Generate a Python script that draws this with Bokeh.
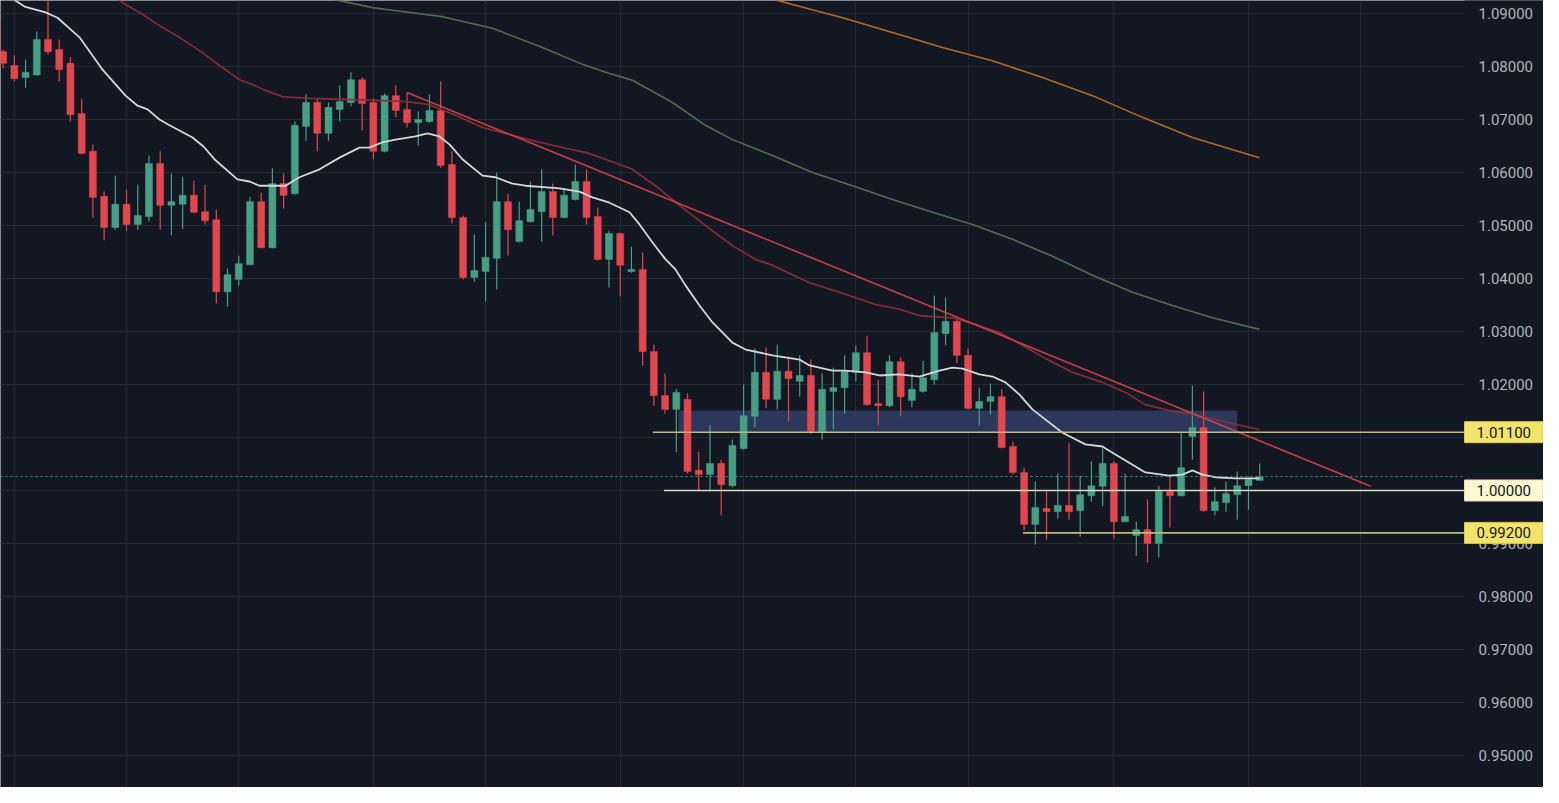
from bokeh.plotting import figure
from bokeh.models import Range1d, FixedTicker, Label, Grid
from bokeh.core.properties import value
from bokeh.embed import file_html
from bokeh.resources import INLINE

# ---------------- data (daily candles, index = trading day) ----------------
opens = [1.0889, 1.0828, 1.0802, 1.0779, 1.0784, 1.0851, 1.0832, 1.0806, 1.0711, 1.0640,
         1.0555, 1.0496, 1.0540, 1.0502, 1.0517, 1.0617, 1.0538, 1.0540, 1.0557, 1.0526,
         1.0511, 1.0375, 1.0398, 1.0426, 1.0545, 1.0458, 1.0579, 1.0560, 1.0687, 1.0732,
         1.0674, 1.0719, 1.0732, 1.0775, 1.0732, 1.0640, 1.0745, 1.0719, 1.0694, 1.0696,
         1.0717, 1.0615, 1.0515, 1.0402, 1.0413, 1.0438, 1.0545, 1.0470, 1.0507, 1.0526,
         1.0564, 1.0515, 1.0549, 1.0583, 1.0517, 1.0436, 1.0485, 1.0413, 1.0417, 1.0262,
         1.0179, 1.0153, 1.0172, 1.0038, 1.0030, 1.0051, 1.0009, 1.0079, 1.0140, 1.0223,
         1.0172, 1.0225, 1.0206, 1.0217, 1.0111, 1.0187, 1.0194, 1.0223, 1.0260, 1.0164,
         1.0160, 1.0243, 1.0170, 1.0187, 1.0209, 1.0296, 1.0319, 1.0255, 1.0155, 1.0168,
         1.0177, 1.0083, 1.0034, 0.9936, 0.9966, 0.9960, 0.9972, 0.9962, 0.9990, 1.0008,
         1.0051, 0.9941, 0.9915, 0.9926, 0.9900, 0.9998, 0.9990, 1.0102, 1.0119, 0.9962,
         0.9977, 0.9992, 1.0009, 1.0019]
highs = [1.0902, 1.0832, 1.0821, 1.0813, 1.0866, 1.0938, 1.0851, 1.0817, 1.0738, 1.0653,
         1.0564, 1.0594, 1.0568, 1.0577, 1.0632, 1.0640, 1.0598, 1.0592, 1.0585, 1.0577,
         1.0530, 1.0419, 1.0443, 1.0554, 1.0562, 1.0608, 1.0598, 1.0696, 1.0747, 1.0740,
         1.0732, 1.0764, 1.0789, 1.0779, 1.0740, 1.0749, 1.0764, 1.0751, 1.0715, 1.0747,
         1.0772, 1.0640, 1.0519, 1.0483, 1.0506, 1.0600, 1.0560, 1.0545, 1.0583, 1.0606,
         1.0579, 1.0570, 1.0615, 1.0606, 1.0534, 1.0489, 1.0487, 1.0460, 1.0449, 1.0275,
         1.0221, 1.0191, 1.0183, 1.0073, 1.0123, 1.0058, 1.0096, 1.0200, 1.0268, 1.0270,
         1.0275, 1.0253, 1.0255, 1.0247, 1.0221, 1.0232, 1.0255, 1.0274, 1.0292, 1.0209,
         1.0255, 1.0251, 1.0221, 1.0245, 1.0368, 1.0364, 1.0323, 1.0268, 1.0194, 1.0202,
         1.0191, 1.0092, 1.0043, 1.0017, 0.9998, 1.0032, 1.0089, 1.0028, 1.0055, 1.0079,
         1.0055, 1.0032, 0.9941, 0.9983, 1.0009, 1.0028, 1.0111, 1.0198, 1.0187, 1.0006,
         1.0017, 1.0036, 1.0026, 1.0051]
lows = [1.0815, 1.0796, 1.0772, 1.0760, 1.0783, 1.0823, 1.0772, 1.0696, 1.0634, 1.0515,
        1.0472, 1.0492, 1.0489, 1.0492, 1.0508, 1.0492, 1.0481, 1.0494, 1.0523, 1.0502,
        1.0353, 1.0347, 1.0387, 1.0425, 1.0457, 1.0457, 1.0532, 1.0558, 1.0660, 1.0640,
        1.0660, 1.0696, 1.0725, 1.0679, 1.0625, 1.0638, 1.0704, 1.0685, 1.0651, 1.0694,
        1.0609, 1.0504, 1.0398, 1.0394, 1.0357, 1.0379, 1.0443, 1.0468, 1.0506, 1.0470,
        1.0481, 1.0513, 1.0547, 1.0502, 1.0434, 1.0383, 1.0366, 1.0411, 1.0236, 1.0160,
        1.0145, 1.0072, 1.0032, 0.9998, 0.9998, 0.9953, 1.0006, 1.0077, 1.0119, 1.0155,
        1.0153, 1.0130, 1.0177, 1.0107, 1.0096, 1.0115, 1.0145, 1.0206, 1.0160, 1.0123,
        1.0157, 1.0140, 1.0157, 1.0185, 1.0200, 1.0274, 1.0240, 1.0153, 1.0123, 1.0143,
        1.0079, 1.0030, 0.9925, 0.9898, 0.9907, 0.9947, 0.9945, 0.9913, 0.9979, 0.9970,
        0.9909, 0.9940, 0.9877, 0.9864, 0.9874, 0.9930, 0.9989, 1.0058, 0.9960, 0.9953,
        0.9960, 0.9945, 0.9964, 1.0019]
closes = [1.0826, 1.0806, 1.0777, 1.0789, 1.0851, 1.0828, 1.0794, 1.0709, 1.0636, 1.0553,
          1.0496, 1.0540, 1.0502, 1.0519, 1.0617, 1.0538, 1.0545, 1.0557, 1.0525, 1.0509,
          1.0375, 1.0407, 1.0428, 1.0545, 1.0458, 1.0579, 1.0557, 1.0689, 1.0732, 1.0674,
          1.0723, 1.0734, 1.0775, 1.0730, 1.0640, 1.0745, 1.0717, 1.0694, 1.0700, 1.0717,
          1.0613, 1.0515, 1.0402, 1.0415, 1.0440, 1.0545, 1.0492, 1.0509, 1.0530, 1.0564,
          1.0515, 1.0557, 1.0583, 1.0515, 1.0436, 1.0485, 1.0425, 1.0417, 1.0262, 1.0179,
          1.0153, 1.0185, 1.0036, 1.0030, 1.0051, 1.0011, 1.0085, 1.0141, 1.0223, 1.0172,
          1.0225, 1.0211, 1.0217, 1.0111, 1.0191, 1.0194, 1.0225, 1.0260, 1.0162, 1.0160,
          1.0243, 1.0177, 1.0191, 1.0213, 1.0298, 1.0319, 1.0255, 1.0155, 1.0168, 1.0177,
          1.0081, 1.0034, 0.9936, 0.9968, 0.9960, 0.9972, 0.9960, 0.9992, 1.0009, 1.0051,
          0.9941, 0.9951, 0.9926, 0.9900, 0.9998, 0.9990, 1.0043, 1.0119, 0.9962, 0.9979,
          0.9994, 1.0009, 1.0021, 1.0026]

# moving averages (x = candle index, y = price)
ma20_x = [0.3, 0.94, 2.91, 4.78, 5.85, 7.81, 9.86, 11.91, 12.98, 13.87, 14.94, 15.83, 17.88,
          18.86, 19.93, 21.89, 22.96, 23.85, 25.01, 26.17, 27.41, 29.2, 30.98, 32.76, 33.65,
          34.81, 35.97, 37.75, 38.82, 39.89, 40.78, 41.94, 43.73, 44.88, 46.4, 47.56, 50.59,
          52.37, 53.53, 55.04, 56.83, 57.72, 58.88, 60.04, 60.93, 61.82, 63.07, 64.23, 66.0,
          67.17, 69.57, 71.98, 72.87, 74.92, 76.08, 77.86, 79.11, 80.89, 82.67, 84.45, 85.61,
          86.51, 88.02, 89.18, 90.34, 91.59, 92.74, 95.42, 97.47, 98.98, 100.14, 102.81,
          104.95, 106.11, 107.0, 107.89, 109.05, 110.84, 112.97]
ma20_y = [1.0950, 1.0940, 1.0913, 1.0902, 1.0892, 1.0855, 1.0794, 1.0745, 1.0726, 1.0719,
          1.0700, 1.0689, 1.0666, 1.0649, 1.0623, 1.0587, 1.0583, 1.0575, 1.0575, 1.0575,
          1.0591, 1.0606, 1.0628, 1.0647, 1.0647, 1.0657, 1.0662, 1.0668, 1.0674, 1.0668,
          1.0653, 1.0625, 1.0594, 1.0591, 1.0579, 1.0575, 1.0570, 1.0564, 1.0553, 1.0543,
          1.0525, 1.0502, 1.0468, 1.0436, 1.0417, 1.0387, 1.0349, 1.0317, 1.0279, 1.0266,
          1.0255, 1.0247, 1.0236, 1.0226, 1.0226, 1.0223, 1.0217, 1.0219, 1.0215, 1.0226,
          1.0232, 1.0230, 1.0219, 1.0215, 1.0204, 1.0181, 1.0153, 1.0109, 1.0087, 1.0083,
          1.0068, 1.0034, 1.0028, 1.0030, 1.0038, 1.0030, 1.0025, 1.0023, 1.0023]

ma50_x = [10.3, 11.91, 13.15, 14.94, 16.72, 18.77, 20.28, 22.07, 23.23, 24.12, 25.9, 28.31,
          31.25, 34.19, 36.86, 39.0, 41.32, 43.73, 46.4, 48.81, 51.75, 52.9, 54.69, 57.09,
          59.14, 61.28, 63.6, 66.0, 68.06, 69.57, 72.87, 75.54, 78.75, 80.89, 82.67, 83.83,
          85.61, 88.02, 89.8, 91.85, 94.08, 96.3, 98.98, 101.03, 102.81, 104.95, 106.74,
          109.05, 110.84, 112.97]
ma50_y = [1.0940, 1.0917, 1.0902, 1.0877, 1.0855, 1.0826, 1.0802, 1.0775, 1.0766, 1.0757,
          1.0743, 1.0740, 1.0738, 1.0736, 1.0734, 1.0728, 1.0708, 1.0685, 1.0670, 1.0657,
          1.0643, 1.0638, 1.0625, 1.0606, 1.0575, 1.0538, 1.0500, 1.0462, 1.0436, 1.0425,
          1.0392, 1.0374, 1.0351, 1.0342, 1.0330, 1.0328, 1.0326, 1.0311, 1.0298, 1.0274,
          1.0247, 1.0223, 1.0204, 1.0185, 1.0162, 1.0151, 1.0145, 1.0134, 1.0125, 1.0115]

ma100_x = [26.79, 29.73, 33.92, 35.7, 40.16, 44.62, 49.07, 52.64, 54.69, 57.09, 60.66, 63.6,
           66.0, 69.57, 73.14, 76.7, 80.27, 83.83, 87.4, 90.96, 94.53, 98.09, 101.66, 105.22,
           108.79, 112.97]
ma100_y = [1.0940, 1.0930, 1.0911, 1.0906, 1.0894, 1.0872, 1.0836, 1.0804, 1.0789, 1.0774,
           1.0732, 1.0689, 1.0662, 1.0632, 1.0600, 1.0575, 1.0549, 1.0525, 1.0502, 1.0474,
           1.0442, 1.0406, 1.0374, 1.0349, 1.0326, 1.0304]

ma200_x = [67.34, 71.35, 75.81, 80.27, 84.72, 89.18, 93.64, 98.09, 102.55, 107.0, 112.97]
ma200_y = [1.0940, 1.0917, 1.0892, 1.0864, 1.0836, 1.0811, 1.0779, 1.0745, 1.0704, 1.0666, 1.0628]

# drawings on the chart
trend_x = [37, 122.9]
trend_y = [1.0751, 1.0008]
zone_left, zone_right, zone_bottom, zone_top = 61.2, 111.0, 1.0110, 1.0151
levels = [1.011, 1.000, 0.992]
level_start = [58.9, 59.9, 91.9]
level_text = ["1.01100", "1.00000", "0.99200"]
level_fill = ["#f2e46b", "#fdf8d2", "#f2e46b"]
level_border = ["#d9c94f", "#e6e0b4", "#d9c94f"]
level_line = ["#bdb87c", "#dcd9bd", "#bdb87c"]
last_price = 1.00264

# price scale
yticks = [0.95, 0.96, 0.97, 0.98, 0.99, 1.00, 1.01, 1.02, 1.03, 1.04, 1.05, 1.06, 1.07, 1.08, 1.09]
ytick_labels = ["%.5f" % t for t in yticks]
grid_idx = [2, 12, 22, 34, 44, 56, 67, 77, 87, 100, 112, 122]

# ---------------- layout / styling ----------------
BG = "#131722"
GRID = "#242835"
UP = "#479e84"
DOWN = "#e2474f"
X0, PX = 0.766, 0.08913          # index at left edge, index units per pixel
FRAME_W, FRAME_H = 1543, 787
chart_right = X0 + 1464 * PX      # where the price scale begins
scale_right = X0 + FRAME_W * PX

p = figure(frame_width=FRAME_W, frame_height=FRAME_H,
           x_range=Range1d(X0, scale_right), y_range=Range1d(0.94396, 1.09245),
           y_axis_location=None, x_axis_location=None,
           output_backend="svg", toolbar_location=None,
           min_border_left=0, min_border_top=0, min_border_bottom=0, min_border_right=0,
           background_fill_color=BG, border_fill_color=BG, outline_line_color=None)

if len(p.ygrid) == 0:
    p.add_layout(Grid(dimension=1))
if len(p.xgrid) == 0:
    p.add_layout(Grid(dimension=0))
p.ygrid.ticker = FixedTicker(ticks=yticks)
p.ygrid.grid_line_color = GRID
p.xgrid.ticker = FixedTicker(ticks=grid_idx)
p.xgrid.grid_line_color = GRID

# zone rectangle
p.quad(left=[zone_left], right=[zone_right], bottom=[zone_bottom], top=[zone_top],
       fill_color="#2c3a5f", fill_alpha=0.95, line_color=None)

# candles
idx = list(range(len(opens)))
colors = [UP if c >= o else DOWN for o, c in zip(opens, closes)]
tops = [max(o, c) for o, c in zip(opens, closes)]
bots = [min(o, c) for o, c in zip(opens, closes)]
p.segment(x0=idx, y0=lows, x1=idx, y1=highs, line_color=colors, line_width=1.2)
p.vbar(x=idx, width=0.62, top=tops, bottom=bots, fill_color=colors, line_color=colors,
       line_width=0.5)

# moving averages and trend line
p.line(ma200_x, ma200_y, line_color="#b36a22", line_width=1.6)
p.line(ma100_x, ma100_y, line_color="#4f6f4d", line_width=1.6)
p.line(ma50_x, ma50_y, line_color="#8a2e35", line_width=1.6)
p.line(ma20_x, ma20_y, line_color="#d4d6da", line_width=1.8)
p.line(trend_x, trend_y, line_color="#d9434d", line_width=1.6, line_alpha=0.9)

# horizontal levels and last price
p.ray(x=level_start, y=levels, length=0, angle=0, line_color=level_line, line_width=1.6)
p.ray(x=[X0], y=[last_price], length=0, angle=0, line_color="#26a69a",
      line_dash="2 3", line_width=1)

# price-scale strip
p.quad(left=[chart_right], right=[scale_right + 5], bottom=[0.9], top=[1.2],
       fill_color=BG, line_color=None)
p.text(x=[chart_right + 14 * PX] * len(yticks), y=yticks, text=ytick_labels,
       text_align="left", text_baseline="middle", text_color="#b2b5be",
       text_font=value("Roboto"), text_font_size=value("15px"))

for lv, txt, fc, bc in zip(levels, level_text, level_fill, level_border):
    p.add_layout(Label(x=chart_right, y=lv, text=txt,
                       text_align="left", text_baseline="middle",
                       text_font="Roboto", text_font_size="15px", text_color="#131722",
                       background_fill_color=fc, background_fill_alpha=1.0,
                       border_line_color=bc, border_line_width=1,
                       padding=(12, 5)))

template = """{% extends base %}
{% block postamble %}<style>html, body { background: #131722; }</style>{% endblock %}"""
try:
    html = file_html(p, INLINE, template=template)
except Exception:
    html = file_html(p, INLINE)
open("out.html", "w").write(html)
